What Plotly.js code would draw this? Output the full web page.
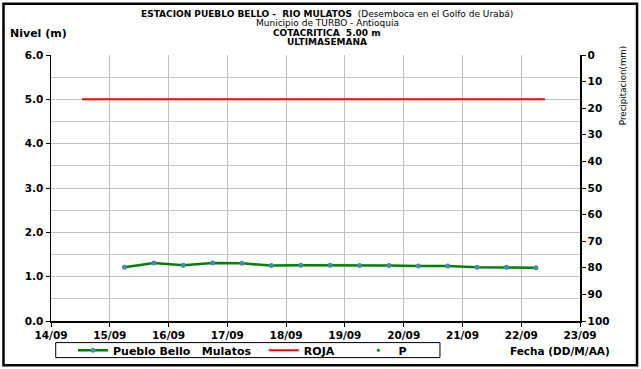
<!DOCTYPE html>
<html><head><meta charset="utf-8">
<script src="https://cdn.plot.ly/plotly-3.0.1.min.js"></script>
<style>html,body{margin:0;padding:0;background:#fff}#c{width:641px;height:369px}</style>
</head><body><div id="c"></div>
<script>
const levelTimes = ['2023-09-15 06:00','2023-09-15 18:00','2023-09-16 06:00','2023-09-16 18:00','2023-09-17 06:00','2023-09-17 18:00','2023-09-18 06:00','2023-09-18 18:00','2023-09-19 06:00','2023-09-19 18:00','2023-09-20 06:00','2023-09-20 18:00','2023-09-21 06:00','2023-09-21 18:00','2023-09-22 06:00'];
const levelValues = [1.21,1.31,1.26,1.31,1.30,1.25,1.26,1.26,1.25,1.25,1.24,1.24,1.21,1.21,1.20];
const rojaTimes = ['2023-09-14 12:40','2023-09-22 09:40'];
const rojaValues = [5.0,5.0];
const precipTimes = ['2023-09-15 06:00'];
const precipValues = [null];
const xRange = ['2023-09-14','2023-09-23'];

const FAM = 'DejaVu Sans, Liberation Sans, sans-serif';
const tickF = {family:FAM, size:10.5, color:'#000', weight:700};
const nb = '\u00a0';
const traces = [
  {x:levelTimes, y:levelValues, type:'scatter', mode:'lines+markers', name:'Pueblo Bello'+nb+nb+nb+'Mulatos'+nb+nb,
   line:{color:'#008000', width:2.5}, marker:{color:'#3f8fae', size:5}},
  {x:rojaTimes, y:rojaValues, type:'scatter', mode:'lines', name:'ROJA'+nb.repeat(5),
   line:{color:'#ff0000', width:2}},
  {x:precipTimes, y:precipValues, type:'scatter', mode:'markers', name:'P', yaxis:'y2',
   marker:{color:'#008000', size:3}}
];
const layout = {
  width:641, height:369,
  margin:{l:51, r:61, t:55, b:48, autoexpand:false},
  paper_bgcolor:'#fff', plot_bgcolor:'#fff',
  showlegend:true,
  font:{family:FAM, size:9, color:'#000'},
  xaxis:{type:'date', range:xRange, dtick:86400000, tickformat:'%d/%m', tick0:'2023-09-14',
    showgrid:true, gridcolor:'#c0c0c0', gridwidth:1, showline:true, linecolor:'#000', linewidth:1.5,
    ticks:'outside', ticklen:4, tickcolor:'#000', tickfont:tickF, zeroline:false},
  yaxis:{range:[0,6], dtick:1, tickformat:'.1f', showgrid:true, gridcolor:'#c0c0c0', gridwidth:1,
    minor:{dtick:0.5, showgrid:true, gridcolor:'#c8c8c8', ticks:''},
    showline:true, linecolor:'#000', linewidth:1.5, ticks:'outside', ticklen:4, tickcolor:'#000',
    tickfont:tickF, zeroline:false},
  yaxis2:{range:[100,0], dtick:10, overlaying:'y', side:'right', showgrid:false, showline:true,
    linecolor:'#000', linewidth:1.5, ticks:'outside', ticklen:4, tickcolor:'#000', tickfont:tickF,
    zeroline:false},
  legend:{orientation:'h', x:0.0416, xanchor:'left', y:-0.110, yanchor:'middle', borderwidth:0,
    bgcolor:'rgba(0,0,0,0)', font:{family:FAM, size:11, color:'#000', weight:700}, itemwidth:30},
  annotations:[
    {xref:'paper', yref:'paper', x:0.522, y:1.0, yshift:41.5, xanchor:'center', yanchor:'middle', showarrow:false,
     text:'<b>ESTACION PUEBLO BELLO -  RIO MULATOS</b>  (Desemboca en el Golfo de Urabá)'},
    {xref:'paper', yref:'paper', x:0.522, y:1.0, yshift:31.9, xanchor:'center', yanchor:'middle', showarrow:false,
     text:'Municipio de TURBO - Antioquia'},
    {xref:'paper', yref:'paper', x:0.522, y:1.0, yshift:22.3, xanchor:'center', yanchor:'middle', showarrow:false,
     text:'<b>COTACRITICA  5.00 m</b>'},
    {xref:'paper', yref:'paper', x:0.522, y:1.0, yshift:12.7, xanchor:'center', yanchor:'middle', showarrow:false,
     text:'<b>ULTIMASEMANA</b>'},
    {xref:'paper', yref:'paper', x:-0.0813, y:1.0, yshift:21.5, xanchor:'left', yanchor:'middle', showarrow:false,
     text:'<b>Nivel (m)</b>', font:{family:FAM, size:11}},
    {xref:'paper', yref:'paper', x:0.864, y:0, yshift:-29.5, xanchor:'left', yanchor:'middle', showarrow:false,
     text:'<b>Fecha (DD/M/AA)</b>', font:{family:FAM, size:10.5}},
    {xref:'paper', yref:'paper', x:1.081, y:0.886, xanchor:'center', yanchor:'middle', showarrow:false, textangle:-90,
     text:'Precipitacion(mm)', font:{family:FAM, size:8.7}}
  ],
  shapes:[
    {type:'rect', xref:'paper', yref:'paper', x0:0.0089, x1:0.7353, y0:-0.1376, y1:-0.0812, line:{color:'#000', width:1}, fillcolor:'rgba(0,0,0,0)'},
    {type:'rect', xref:'paper', yref:'paper', x0:-0.0898, x1:1.1078, y0:-0.1665, y1:1.1925, line:{color:'#000', width:2.5}, fillcolor:'rgba(0,0,0,0)'}
  ]
};
Plotly.newPlot('c', traces, layout, {displayModeBar:false, staticPlot:true});
</script></body></html>
